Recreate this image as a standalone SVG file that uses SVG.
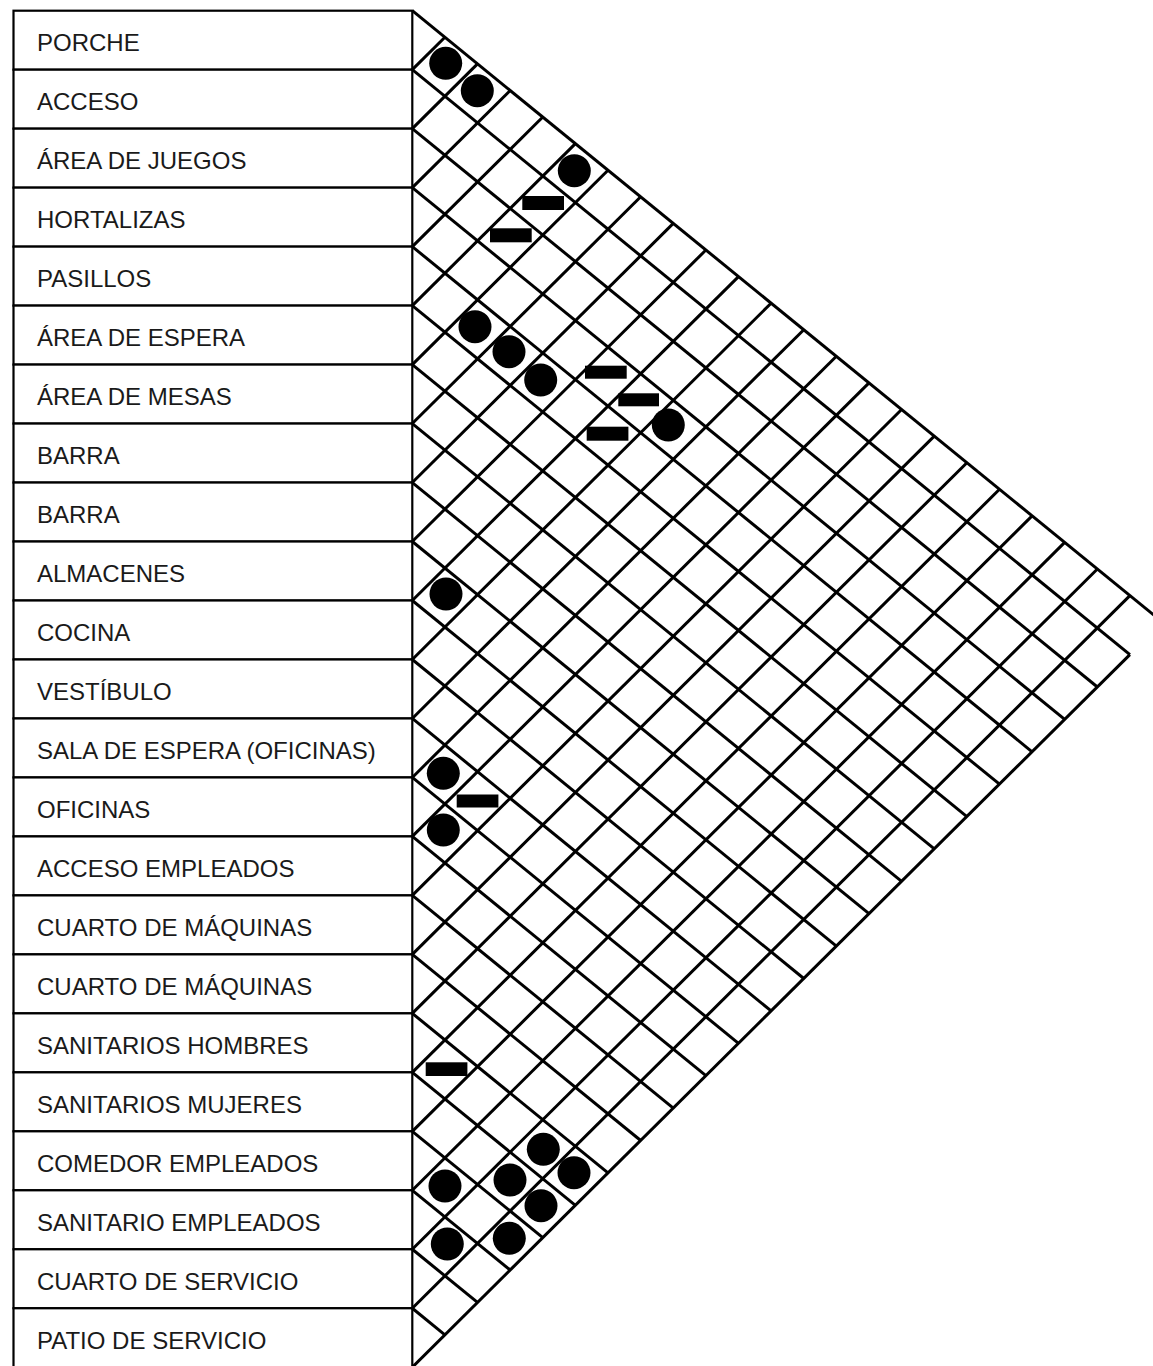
<svg xmlns="http://www.w3.org/2000/svg" width="1153" height="1366" viewBox="0 0 1153 1366">
<style>
.row rect{fill:#fff;stroke:#000;stroke-width:2.2}
.row text{font-family:"Liberation Sans",Arial,sans-serif;font-size:24px;fill:#1a1a1a}
.g line{stroke:#000;stroke-width:3;stroke-linecap:butt}
.dot{fill:#000}
.bar{fill:#000}
</style>
<rect width="1153" height="1366" fill="#fff"/>
<g id="rows">
<g id="r0" class="row"><rect x="13.5" y="10.7" width="398.8" height="58.98"/><text x="37" y="51">PORCHE</text></g>
<g id="r1" class="row"><rect x="13.5" y="69.68" width="398.8" height="58.98"/><text x="37" y="110">ACCESO</text></g>
<g id="r2" class="row"><rect x="13.5" y="128.66" width="398.8" height="58.98"/><text x="37" y="169">ÁREA DE JUEGOS</text></g>
<g id="r3" class="row"><rect x="13.5" y="187.64" width="398.8" height="58.98"/><text x="37" y="228">HORTALIZAS</text></g>
<g id="r4" class="row"><rect x="13.5" y="246.62" width="398.8" height="58.98"/><text x="37" y="287">PASILLOS</text></g>
<g id="r5" class="row"><rect x="13.5" y="305.6" width="398.8" height="58.98"/><text x="37" y="346">ÁREA DE ESPERA</text></g>
<g id="r6" class="row"><rect x="13.5" y="364.58" width="398.8" height="58.98"/><text x="37" y="405">ÁREA DE MESAS</text></g>
<g id="r7" class="row"><rect x="13.5" y="423.56" width="398.8" height="58.98"/><text x="37" y="464">BARRA</text></g>
<g id="r8" class="row"><rect x="13.5" y="482.54" width="398.8" height="58.98"/><text x="37" y="523">BARRA</text></g>
<g id="r9" class="row"><rect x="13.5" y="541.52" width="398.8" height="58.98"/><text x="37" y="582">ALMACENES</text></g>
<g id="r10" class="row"><rect x="13.5" y="600.5" width="398.8" height="58.98"/><text x="37" y="641">COCINA</text></g>
<g id="r11" class="row"><rect x="13.5" y="659.48" width="398.8" height="58.98"/><text x="37" y="700">VESTÍBULO</text></g>
<g id="r12" class="row"><rect x="13.5" y="718.46" width="398.8" height="58.98"/><text x="37" y="759">SALA DE ESPERA (OFICINAS)</text></g>
<g id="r13" class="row"><rect x="13.5" y="777.44" width="398.8" height="58.98"/><text x="37" y="818">OFICINAS</text></g>
<g id="r14" class="row"><rect x="13.5" y="836.42" width="398.8" height="58.98"/><text x="37" y="877">ACCESO EMPLEADOS</text></g>
<g id="r15" class="row"><rect x="13.5" y="895.4" width="398.8" height="58.98"/><text x="37" y="936">CUARTO DE MÁQUINAS</text></g>
<g id="r16" class="row"><rect x="13.5" y="954.38" width="398.8" height="58.98"/><text x="37" y="995">CUARTO DE MÁQUINAS</text></g>
<g id="r17" class="row"><rect x="13.5" y="1013.36" width="398.8" height="58.98"/><text x="37" y="1054">SANITARIOS HOMBRES</text></g>
<g id="r18" class="row"><rect x="13.5" y="1072.34" width="398.8" height="58.98"/><text x="37" y="1113">SANITARIOS MUJERES</text></g>
<g id="r19" class="row"><rect x="13.5" y="1131.32" width="398.8" height="58.98"/><text x="37" y="1172">COMEDOR EMPLEADOS</text></g>
<g id="r20" class="row"><rect x="13.5" y="1190.3" width="398.8" height="58.98"/><text x="37" y="1231">SANITARIO EMPLEADOS</text></g>
<g id="r21" class="row"><rect x="13.5" y="1249.28" width="398.8" height="58.98"/><text x="37" y="1290">CUARTO DE SERVICIO</text></g>
<g id="r22" class="row"><rect x="13.5" y="1308.26" width="398.8" height="58.98"/><text x="37" y="1349">PATIO DE SERVICIO</text></g>
</g>
<g id="connectors" class="g">
<line x1="412.3" y1="10.7" x2="1162.6" y2="622.2"/>
<line x1="412.3" y1="69.68" x2="1129.9" y2="654.6"/>
<line x1="412.3" y1="128.66" x2="1097.4" y2="687.0"/>
<line x1="412.3" y1="187.64" x2="1064.7" y2="719.4"/>
<line x1="412.3" y1="246.62" x2="1032.1" y2="751.8"/>
<line x1="412.3" y1="305.6" x2="999.5" y2="784.2"/>
<line x1="412.3" y1="364.58" x2="966.9" y2="816.6"/>
<line x1="412.3" y1="423.56" x2="934.3" y2="848.9"/>
<line x1="412.3" y1="482.54" x2="901.6" y2="881.3"/>
<line x1="412.3" y1="541.52" x2="869.0" y2="913.7"/>
<line x1="412.3" y1="600.5" x2="836.4" y2="946.1"/>
<line x1="412.3" y1="659.48" x2="803.8" y2="978.5"/>
<line x1="412.3" y1="718.46" x2="771.1" y2="1010.9"/>
<line x1="412.3" y1="777.44" x2="738.5" y2="1043.3"/>
<line x1="412.3" y1="836.42" x2="705.9" y2="1075.7"/>
<line x1="412.3" y1="895.4" x2="673.3" y2="1108.1"/>
<line x1="412.3" y1="954.38" x2="640.7" y2="1140.5"/>
<line x1="412.3" y1="1013.36" x2="608.0" y2="1172.9"/>
<line x1="412.3" y1="1072.34" x2="575.4" y2="1205.3"/>
<line x1="412.3" y1="1131.32" x2="542.8" y2="1237.6"/>
<line x1="412.3" y1="1190.3" x2="510.2" y2="1270.0"/>
<line x1="412.3" y1="1249.28" x2="477.5" y2="1302.4"/>
<line x1="412.3" y1="1308.26" x2="444.9" y2="1334.8"/>
<line x1="412.3" y1="69.68" x2="444.9" y2="37.3"/>
<line x1="412.3" y1="128.66" x2="477.5" y2="63.9"/>
<line x1="412.3" y1="187.64" x2="510.2" y2="90.5"/>
<line x1="412.3" y1="246.62" x2="542.8" y2="117.0"/>
<line x1="412.3" y1="305.6" x2="575.4" y2="143.6"/>
<line x1="412.3" y1="364.58" x2="608.0" y2="170.2"/>
<line x1="412.3" y1="423.56" x2="640.7" y2="196.8"/>
<line x1="412.3" y1="482.54" x2="673.3" y2="223.4"/>
<line x1="412.3" y1="541.52" x2="705.9" y2="250.0"/>
<line x1="412.3" y1="600.5" x2="738.5" y2="276.6"/>
<line x1="412.3" y1="659.48" x2="771.1" y2="303.2"/>
<line x1="412.3" y1="718.46" x2="803.8" y2="329.7"/>
<line x1="412.3" y1="777.44" x2="836.4" y2="356.3"/>
<line x1="412.3" y1="836.42" x2="869.0" y2="382.9"/>
<line x1="412.3" y1="895.4" x2="901.6" y2="409.5"/>
<line x1="412.3" y1="954.38" x2="934.3" y2="436.1"/>
<line x1="412.3" y1="1013.36" x2="966.9" y2="462.7"/>
<line x1="412.3" y1="1072.34" x2="999.5" y2="489.3"/>
<line x1="412.3" y1="1131.32" x2="1032.1" y2="515.9"/>
<line x1="412.3" y1="1190.3" x2="1064.7" y2="542.4"/>
<line x1="412.3" y1="1249.28" x2="1097.4" y2="569.0"/>
<line x1="412.3" y1="1308.26" x2="1129.9" y2="595.6"/>
<line x1="412.3" y1="1367.24" x2="1129.9" y2="654.6"/>
</g>
<g id="marks">
<circle class="dot" cx="445.7" cy="63.3" r="16.5"/>
<circle class="dot" cx="477.3" cy="90.7" r="16.5"/>
<circle class="dot" cx="574.3" cy="170.7" r="16.5"/>
<circle class="dot" cx="475" cy="326.7" r="16.5"/>
<circle class="dot" cx="509" cy="351.7" r="16.5"/>
<circle class="dot" cx="540.7" cy="380" r="16.5"/>
<circle class="dot" cx="668.3" cy="425" r="16.5"/>
<circle class="dot" cx="446" cy="594" r="16.5"/>
<circle class="dot" cx="443.3" cy="773.3" r="16.5"/>
<circle class="dot" cx="443.3" cy="830" r="16.5"/>
<circle class="dot" cx="543.3" cy="1149.3" r="16.5"/>
<circle class="dot" cx="445" cy="1186" r="16.5"/>
<circle class="dot" cx="510" cy="1180" r="16.5"/>
<circle class="dot" cx="574" cy="1172.7" r="16.5"/>
<circle class="dot" cx="541" cy="1205.7" r="16.5"/>
<circle class="dot" cx="447.3" cy="1244" r="16.5"/>
<circle class="dot" cx="509.3" cy="1238.3" r="16.5"/>
<rect class="bar" x="522.3" y="196" width="41.7" height="14"/>
<rect class="bar" x="490" y="228.3" width="41.7" height="14"/>
<rect class="bar" x="585" y="365.7" width="41.7" height="13"/>
<rect class="bar" x="618.3" y="393.3" width="40.7" height="13"/>
<rect class="bar" x="586.7" y="426.7" width="41.7" height="14"/>
<rect class="bar" x="456.7" y="794.5" width="41.7" height="13"/>
<rect class="bar" x="425.7" y="1062.3" width="41.7" height="13.7"/>
</g>
</svg>
